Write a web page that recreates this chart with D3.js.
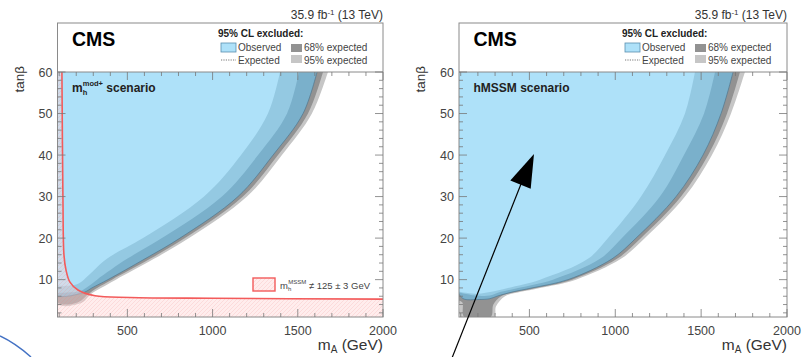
<!DOCTYPE html>
<html><head><meta charset="utf-8">
<script src="https://cdn.jsdelivr.net/npm/d3@7"></script>
<style>body{margin:0;background:#fff}svg{display:block;font-family:"Liberation Sans",Arial,sans-serif}</style>
</head><body><svg id="c" width="803" height="357"></svg>
<script>
// ---------- data ----------
const mADomain = [90, 2000];
const tanbDomain = [1, 60];
const xTickLabels = [500, 1000, 1500, 2000];
const yTickLabels = [10, 20, 30, 40, 50, 60];
const lumiLabel = ["35.9 fb", "-1", " (13 TeV)"];

// mhmod+ scenario contours [mA, tanb], from top edge down to the left edge
const mod_obs     = [[1613,60],[1531,50],[1355,40],[1149,30],[809,20],[603,15],[386,10],[292,8],[251,7],[200,6.4],[150,6.0],[90,5.9]];
const mod_exp68hi = [[1648,60],[1560,50],[1384,40],[1178,30],[838,20],[633,15],[410,10],[322,8],[270,6.5],[230,5.0],[180,4.2],[130,4.0],[90,4.3]];
const mod_exp95hi = [[1677,60],[1583,50],[1407,40],[1202,30],[862,20],[656,15],[433,10],[345,8],[285,6.5],[240,4.6],[180,3.8],[130,3.6],[90,4.0]];
const mod_exp68lo = [[1507,60],[1437,50],[1267,40],[1055,30],[703,20],[498,15],[322,10],[257,8],[220,7.2],[150,6.9],[90,6.8]];
const mod_exp95lo = [[1396,60],[1325,50],[1167,40],[950,30],[592,20],[380,15],[245,10],[200,8.8],[150,8.5],[90,8.5]];
// mh^MSSM = 125 +- 3 GeV boundary
const mh_line = [[116,60],[122,29.2],[128,15.9],[140,12.3],[163,9.4],[210,7.5],[310,6.1],[515,5.7],[1000,5.5],[2000,5.3]];

// hMSSM scenario contours
const hm_obs     = [[1686,60],[1616,50],[1511,40],[1354,30],[1121,20],[981,15],[725,10],[515,8],[399,7],[311,6],[270,5.4],[200,5.2],[120,5.3],[95,6.2],[90,6.6]];
const hm_exp68hi = [[1726,60],[1651,50],[1541,40],[1383,30],[1150,20],[1010,15],[748,10],[538,8],[422,7],[335,6],[290,4.0],[275,1],[120,1],[110,4.5],[90,5.0]];
const hm_exp95hi = [[1755,60],[1674,50],[1563,40],[1406,30],[1173,20],[1033,15],[771,10],[562,8],[445,7],[358,6],[305,3.5],[295,1],[100,1],[95,4],[90,4.5]];
const hm_exp68lo = [[1581,60],[1517,50],[1400,40],[1260,30],[1039,20],[911,15],[637,10],[434,8],[329,7],[282,6.3],[200,6.1],[90,6.9]];
const hm_exp95lo = [[1464,60],[1406,50],[1290,40],[1150,30],[958,20],[841,15],[562,10],[375,8],[271,7],[200,6.6],[90,7.1]];

// ---------- drawing ----------
const svg = d3.select("#c");
const C = {lb:"#aee1f9", mb:"#94c9e2", db:"#7ab0cb", dg:"#929292", lg:"#c6c6c6", frame:"#8a8a8a", txt:"#444"};

const defs = svg.append("defs");
const pat = defs.append("pattern").attr("id","hatch").attr("width",4).attr("height",4).attr("patternUnits","userSpaceOnUse");
pat.append("rect").attr("width",4).attr("height",4).attr("fill","rgba(255,212,212,0.42)");
pat.append("path").attr("d","M0,4L4,0M-1,1L1,-1M3,5L5,3").attr("stroke","rgba(235,130,130,0.28)").attr("stroke-width",0.6);

const panels = [
  {x0:57.5, x1:383, top:23, yt:72, yb:317, scen:"mod", reg:[mod_exp95hi, mod_exp68hi, mod_obs, mod_exp68lo, mod_exp95lo], obs:mod_obs},
  {x0:459, x1:787, top:23, yt:72, yb:317, scen:"hm", reg:[hm_exp95hi, hm_exp68hi, hm_obs, hm_exp68lo, hm_exp95lo], obs:hm_obs}
];
const fills = [C.lg, C.dg, C.db, C.mb, C.lb];

panels.forEach((p, i) => {
  const x = d3.scaleLinear().domain(mADomain).range([p.x0, p.x1]);
  const y = d3.scaleLinear().domain(tanbDomain).range([p.yb, p.yt]);
  const g = svg.append("g");
  const cid = "clip" + i;
  defs.append("clipPath").attr("id", cid).append("rect")
    .attr("x", p.x0).attr("y", p.yt).attr("width", p.x1 - p.x0).attr("height", p.yb - p.yt);
  const curve = d3.line().x(d => x(d[0])).y(d => y(d[1])).curve(d3.curveCatmullRom.alpha(0.5));
  const region = r => {
    const first = r[0], last = r[r.length - 1];
    return curve(r) + `L${p.x0 - 6},${y(last[1])}L${p.x0 - 6},${p.yt - 6}L${x(first[0])},${p.yt - 6}Z`;
  };
  const area = g.append("g").attr("clip-path", `url(#${cid})`);
  p.reg.forEach((r, k) => area.append("path").attr("d", region(r)).attr("fill", fills[k]));
  // observed edge
  area.append("path").attr("d", curve(p.obs)).attr("fill", "none")
    .attr("stroke", "#4f7891").attr("stroke-width", 0.7);
  if (p.scen === "mod") {
    area.append("path").attr("d", curve(mh_line) + `L${p.x1 + 6},${p.yb + 6}L${p.x0 - 6},${p.yb + 6}L${p.x0 - 6},${p.yt - 6}Z`)
      .attr("fill", "url(#hatch)");
    area.append("path").attr("d", curve(mh_line)).attr("fill", "none").attr("stroke", "#f35b5b").attr("stroke-width", 1.6);
  }
  // frame
  g.append("rect").attr("x", p.x0).attr("y", p.top).attr("width", p.x1 - p.x0).attr("height", p.yb - p.top)
    .attr("fill", "none").attr("stroke", C.frame).attr("stroke-width", 1);
  g.append("line").attr("x1", p.x0).attr("x2", p.x1).attr("y1", p.yt).attr("y2", p.yt).attr("stroke", C.frame);
  // ticks
  const tk = g.append("g").attr("stroke", "#777").attr("stroke-width", 0.8);
  d3.range(100, 2001, 100).forEach(v => {
    const L = v % 500 === 0 ? 8 : 4;
    tk.append("line").attr("x1", x(v)).attr("x2", x(v)).attr("y1", p.yb).attr("y2", p.yb - L);
    tk.append("line").attr("x1", x(v)).attr("x2", x(v)).attr("y1", p.yt).attr("y2", p.yt + L);
  });
  d3.range(2, 61, 2).forEach(v => {
    const L = v % 10 === 0 ? 8 : 4;
    tk.append("line").attr("x1", p.x0).attr("x2", p.x0 + L).attr("y1", y(v)).attr("y2", y(v));
    tk.append("line").attr("x1", p.x1).attr("x2", p.x1 - L).attr("y1", y(v)).attr("y2", y(v));
  });
  // tick labels
  xTickLabels.forEach(v => g.append("text").attr("x", x(v)).attr("y", p.yb + 18).attr("text-anchor", "middle")
    .attr("font-size", 12.5).attr("fill", C.txt).text(v));
  yTickLabels.forEach(v => g.append("text").attr("x", p.x0 - 5).attr("y", y(v) + 4.5).attr("text-anchor", "end")
    .attr("font-size", 12.5).attr("fill", C.txt).text(v));
  // axis titles
  const xt = g.append("text").attr("x", p.x1).attr("y", 350).attr("text-anchor", "end").attr("font-size", 15.5).attr("fill", "#333");
  xt.append("tspan").text("m");
  xt.append("tspan").attr("font-size", 10).attr("dy", 2.5).text("A");
  xt.append("tspan").attr("dy", -2.5).text(" (GeV)");
  g.append("text").attr("transform", `translate(${p.x0 - 34},66) rotate(-90)`).attr("text-anchor", "end")
    .attr("font-size", 13.5).attr("fill", "#333").text("tanβ");
  // lumi
  const lt = g.append("text").attr("x", p.x1).attr("y", 19).attr("text-anchor", "end").attr("font-size", 12).attr("fill", "#333");
  lt.append("tspan").text(lumiLabel[0]);
  lt.append("tspan").attr("font-size", 8).attr("dy", -4.5).text(lumiLabel[1]);
  lt.append("tspan").attr("dy", 4.5).text(lumiLabel[2]);
  // CMS
  g.append("text").attr("x", p.x0 + 14.5).attr("y", 45.5).attr("font-size", 19.5).attr("font-weight", "bold").text("CMS");
  // legend
  const lx = p.x1 - 165;
  g.append("text").attr("x", lx).attr("y", 36.5).attr("font-size", 10).attr("font-weight", "bold").attr("fill", "#222").text("95% CL excluded:");
  g.append("rect").attr("x", lx + 3).attr("y", 43).attr("width", 15).attr("height", 9).attr("fill", C.lb).attr("stroke", "#5a8fb0").attr("stroke-width", 0.8);
  g.append("text").attr("x", lx + 20).attr("y", 51).attr("font-size", 10).attr("fill", "#444").text("Observed");
  g.append("line").attr("x1", lx + 3).attr("x2", lx + 18).attr("y1", 60).attr("y2", 60).attr("stroke", "#555").attr("stroke-width", 0.8).attr("stroke-dasharray", "1.2,1.2");
  g.append("text").attr("x", lx + 20).attr("y", 63.5).attr("font-size", 10).attr("fill", "#444").text("Expected");
  g.append("rect").attr("x", lx + 73).attr("y", 44).attr("width", 11).attr("height", 8).attr("fill", C.dg);
  g.append("text").attr("x", lx + 86).attr("y", 51).attr("font-size", 10).attr("fill", "#444").text("68% expected");
  g.append("rect").attr("x", lx + 73).attr("y", 55).attr("width", 11).attr("height", 8).attr("fill", C.lg);
  g.append("text").attr("x", lx + 86).attr("y", 63.5).attr("font-size", 10).attr("fill", "#444").text("95% expected");
  // scenario label
  const st = g.append("text").attr("x", p.x0 + 14.5).attr("y", 91.5).attr("font-size", 12).attr("font-weight", "bold").attr("fill", "#222");
  if (p.scen === "mod") {
    st.append("tspan").text("m");
    st.append("tspan").attr("font-size", 7.5).attr("dy", 3).text("h");
    st.append("tspan").attr("font-size", 7.5).attr("dx", -4.5).attr("dy", -9).text("mod+");
    st.append("tspan").attr("dy", 6).text(" scenario");
    // mh legend
    g.append("rect").attr("x", 253).attr("y", 278).attr("width", 22).attr("height", 13).attr("fill", "url(#hatch)").attr("stroke", "#f35b5b").attr("stroke-width", 1.4);
    const mt = g.append("text").attr("x", 280).attr("y", 289).attr("font-size", 9.5).attr("fill", "#444");
    mt.append("tspan").text("m");
    mt.append("tspan").attr("font-size", 6).attr("dy", 2).text("h");
    mt.append("tspan").attr("font-size", 6).attr("dx", -3).attr("dy", -7).text("MSSM");
    mt.append("tspan").attr("dy", 5).text(" ≠ 125 ± 3 GeV");
  } else {
    st.text("hMSSM scenario");
  }
});

// slide decorations: arc and arrow
svg.append("path").attr("d", "M0,336 Q15,343 31,357").attr("fill", "none").attr("stroke", "#4472c4").attr("stroke-width", 1.5);
svg.append("line").attr("x1", 452).attr("y1", 358).attr("x2", 521).attr("y2", 184).attr("stroke", "#000").attr("stroke-width", 1.2);
svg.append("path").attr("d", "M534,154L510.3,180.5L530.7,188.7Z").attr("fill", "#000");
</script></body></html>
